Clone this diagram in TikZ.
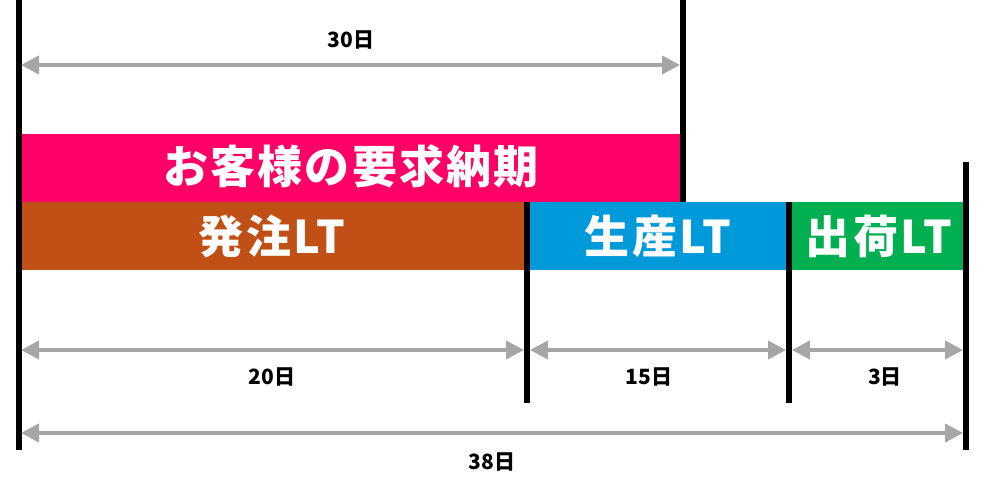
\documentclass[tikz,border=0pt]{standalone}
\usepackage{fontspec}
\setmainfont{Noto Sans CJK JP}
\usetikzlibrary{arrows.meta}
\definecolor{cpink}{HTML}{FF0066}
\definecolor{cbrown}{HTML}{C05016}
\definecolor{cblue}{HTML}{0099DA}
\definecolor{cgreen}{HTML}{00B050}
\definecolor{cgray}{HTML}{A6A6A6}
\tikzset{
  bar/.style={inner sep=0pt, text=white, font=\fontsize{45}{45}\selectfont\bfseries\addfontfeature{LetterSpace=5}},
  vline/.style={line width=6pt, black},
  dim/.style={line width=4pt, cgray, {Triangle[length=18pt,width=18pt]}-{Triangle[length=18pt,width=18pt]}, shorten <=1pt, shorten >=1pt},
  dimlabel/.style={font=\fontsize{21}{21}\selectfont\bfseries, text=black, inner sep=0pt}
}
\begin{document}
\begin{tikzpicture}[x=1pt,y=-1pt]
\useasboundingbox (0,0) rectangle (986,490);
% bars
\fill[cpink] (19,134) rectangle (683,202);
\fill[cbrown] (19,202) rectangle (527,270);
\fill[cblue] (527,202) rectangle (789,270);
\fill[cgreen] (789,202) rectangle (966,270);
\node[bar] (customer) at (351,166) {お客様の要求納期};
\node[bar] (order) at (272,236) {発注LT};
\node[bar] (prod) at (658,236) {生産LT};
\node[bar] (ship) at (879,236) {出荷LT};
% vertical lines
\coordinate (l0t) at (19,0);   \coordinate (l0b) at (19,450);
\coordinate (l1t) at (683,0);  \coordinate (l1b) at (683,202);
\coordinate (l2t) at (527,202); \coordinate (l2b) at (527,403);
\coordinate (l3t) at (789,202); \coordinate (l3b) at (789,403);
\coordinate (l4t) at (966,162); \coordinate (l4b) at (966,450);
\draw[vline] (l0t) -- (l0b);
\draw[vline] (l1t) -- (l1b);
\draw[vline] (l2t) -- (l2b);
\draw[vline] (l3t) -- (l3b);
\draw[vline] (l4t) -- (l4b);
% dimension arrows
\coordinate (a30l) at (20,65); \coordinate (a30r) at (681,65);
\coordinate (a20l) at (20,350); \coordinate (a20r) at (525,350);
\coordinate (a15l) at (529,350); \coordinate (a15r) at (787,350);
\coordinate (a3l) at (791,350); \coordinate (a3r) at (964,350);
\coordinate (a38l) at (20,433); \coordinate (a38r) at (964,433);
\draw[dim] (a30l) -- (a30r);
\draw[dim] (a20l) -- (a20r);
\draw[dim] (a15l) -- (a15r);
\draw[dim] (a3l) -- (a3r);
\draw[dim] (a38l) -- (a38r);
\node[dimlabel] (t30) at (351,40) {30日};
\node[dimlabel] (t20) at (272,377) {20日};
\node[dimlabel] (t15) at (649,377) {15日};
\node[dimlabel] (t3) at (885,377) {3日};
\node[dimlabel] (t38) at (492,462) {38日};
\end{tikzpicture}
\end{document}
